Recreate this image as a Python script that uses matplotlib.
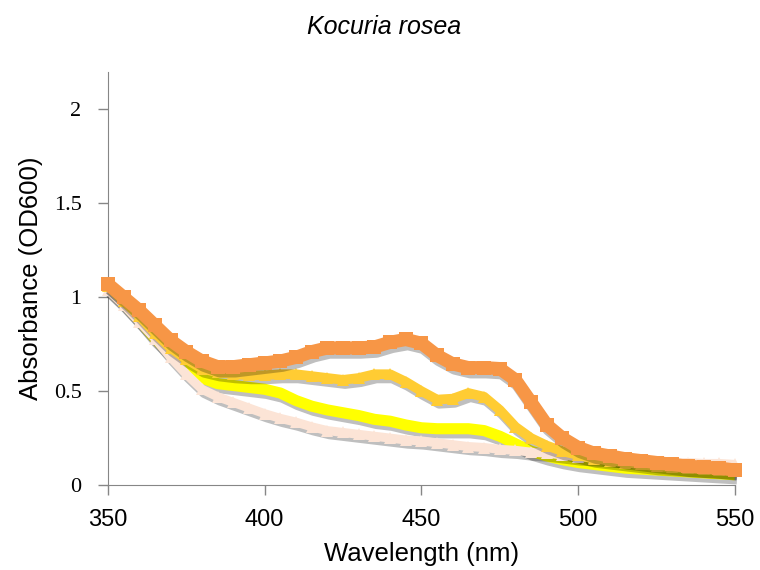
import matplotlib.pyplot as plt
import matplotlib.patheffects as pe

# wavelengths (nm), read every 5 nm
wl = list(range(350, 551, 5))

orange = [1.07, 1.00, 0.93, 0.85, 0.77, 0.71, 0.66, 0.63, 0.63, 0.64,
          0.65, 0.66, 0.68, 0.71, 0.73, 0.73, 0.73, 0.735, 0.76, 0.775,
          0.755, 0.69, 0.645, 0.625, 0.625, 0.62, 0.56, 0.44, 0.32, 0.25,
          0.20, 0.17, 0.155, 0.14, 0.13, 0.12, 0.11, 0.10, 0.095, 0.09, 0.08]
gold = [1.06, 0.98, 0.90, 0.81, 0.73, 0.67, 0.62, 0.60, 0.59, 0.585,
        0.585, 0.59, 0.59, 0.58, 0.57, 0.56, 0.57, 0.59, 0.59, 0.55,
        0.50, 0.455, 0.46, 0.49, 0.47, 0.40, 0.31, 0.25, 0.21, 0.18,
        0.16, 0.14, 0.13, 0.12, 0.11, 0.10, 0.095, 0.09, 0.085, 0.08, 0.075]
yellow = [1.05, 0.97, 0.88, 0.78, 0.70, 0.63, 0.57, 0.54, 0.53, 0.52,
          0.51, 0.49, 0.45, 0.42, 0.40, 0.385, 0.37, 0.35, 0.34, 0.32,
          0.305, 0.30, 0.30, 0.30, 0.29, 0.26, 0.22, 0.18, 0.155, 0.135,
          0.12, 0.11, 0.10, 0.09, 0.085, 0.08, 0.075, 0.07, 0.065, 0.06, 0.055]
peach = [1.04, 0.96, 0.87, 0.78, 0.68, 0.59, 0.51, 0.47, 0.44, 0.41,
         0.38, 0.355, 0.335, 0.31, 0.29, 0.28, 0.27, 0.26, 0.25, 0.24,
         0.235, 0.225, 0.215, 0.205, 0.20, 0.19, 0.185, 0.175, 0.17, 0.16,
         0.15, 0.145, 0.14, 0.135, 0.13, 0.125, 0.12, 0.12, 0.115, 0.115, 0.11]

fig = plt.figure(figsize=(7.6, 5.7), dpi=100)
ax = fig.add_axes([0.142, 0.149, 0.825, 0.725])

shadow = [pe.SimpleLineShadow(offset=(1.5, -3), shadow_color='k', alpha=0.25), pe.Normal()]

# (values, colour, line width, marker, marker size, zorder)
series = [(yellow, '#FFFF00', 8, None, 0, 2),
          (peach, '#FCE4D6', 6.5, '^', 8, 3),
          (gold, '#FFCC33', 7, '^', 9, 4),
          (orange, '#F79646', 9.5, 's', 10, 5)]

for vals, col, lw, mk, ms, z in series:
    ax.plot(wl, vals, color=col, lw=lw, solid_capstyle='butt', solid_joinstyle='round',
            path_effects=shadow, clip_on=False, zorder=z)
    if mk:
        ax.plot(wl, vals, ls='none', marker=mk, ms=ms, mfc=col, mec=col, mew=0,
                clip_on=False, zorder=z + 0.5)

ax.set_xlim(350, 550)
ax.set_ylim(0, 2.2)
ax.set_xticks([350, 400, 450, 500, 550])
ax.set_yticks([0, 0.5, 1, 1.5, 2])
ax.set_yticklabels(['0', '0.5', '1', '1.5', '2'], family='Liberation Serif', fontsize=16)
ax.set_xticklabels(['350', '400', '450', '500', '550'], family='Liberation Sans', fontsize=17)

for s in ['top', 'right']:
    ax.spines[s].set_visible(False)
for s in ['left', 'bottom']:
    ax.spines[s].set_color('#868686')
ax.tick_params(color='#868686', length=7, width=1)
ax.tick_params(axis='x', pad=10)
ax.tick_params(axis='y', pad=12)

ax.set_xlabel('Wavelength (nm)', family='Liberation Sans', fontsize=18.5, labelpad=8)
ax.set_ylabel('Absorbance (OD600)', family='Liberation Sans', fontsize=18.5, labelpad=8)
fig.text(0.505, 0.953, 'Kocuria rosea', family='Liberation Sans', style='italic',
         fontsize=18, ha='center', va='center')

plt.savefig('out.png', dpi=100)
